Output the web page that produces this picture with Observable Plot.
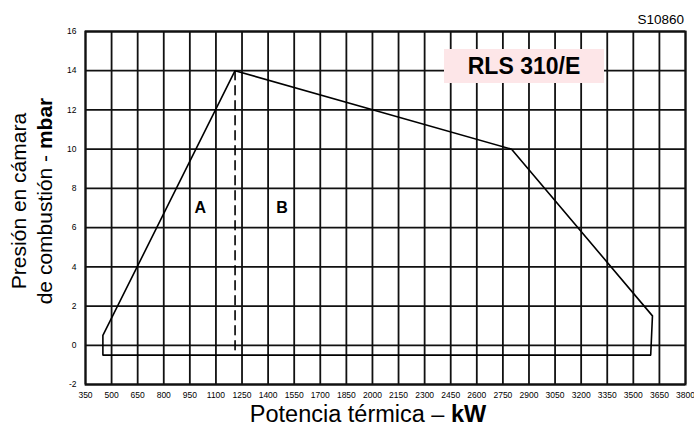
<!DOCTYPE html>
<html><head><meta charset="utf-8">
<script src="https://cdn.jsdelivr.net/npm/d3@7"></script>
<script src="https://cdn.jsdelivr.net/npm/@observablehq/plot@0.6"></script>
<style>
html,body{margin:0;padding:0;background:#fff;}
#wrap{position:relative;width:694px;height:426px;font-family:"Liberation Sans",Arial,sans-serif;}
.ov{position:absolute;white-space:nowrap;color:#000;}
</style>
</head><body>
<div id="wrap"></div>
<script>
// Data
const xTicks = [350,500,650,800,950,1100,1250,1400,1550,1700,1850,2000,2150,2300,2450,2600,2750,2900,3050,3200,3350,3500,3650,3800];
const yTicks = [-2,0,2,4,6,8,10,12,14,16];
const envX = [450, 450, 1210, 2800, 3610, 3600, 450, 450];
const envY = [0.5, 0.5, 14, 10, 1.5, -0.5, -0.5, 0.5];
const divX = [1210, 1210];
const divY = [14, -0.4];
const zoneLabels = ["A", "B"];
const zoneX = [1010, 1480];
const zoneY = [7, 7];
const modelName = "RLS 310/E";
const codeName = "S10860";
const xTitle = ["Potencia térmica – ", "kW"];
const yTitle1 = "Presión en cámara";
const yTitle2 = ["de combustión - ", "mbar"];

const env = envX.map((x, i) => ({x, y: envY[i]}));
const div = divX.map((x, i) => ({x, y: divY[i]}));
const zones = zoneLabels.map((t, i) => ({t, x: zoneX[i], y: zoneY[i]}));
const fmt = d => String(d);

const chart = Plot.plot({
  width: 694, height: 426,
  marginLeft: 85, marginRight: 9, marginTop: 31, marginBottom: 42,
  style: {fontFamily: '"Liberation Sans", Arial, sans-serif', background: "#fff", color: "#000"},
  x: {domain: [350, 3800], label: null},
  y: {domain: [-2, 16], label: null},
  marks: [
    Plot.ruleX(xTicks, {stroke: "#111", strokeWidth: 1.8}),
    Plot.ruleY(yTicks, {stroke: "#111", strokeWidth: 1.8}),
    Plot.frame({stroke: "#111", strokeWidth: 2}),
    Plot.line(env, {x: "x", y: "y", stroke: "#000", strokeWidth: 1.6, curve: "linear"}),
    Plot.line(div, {x: "x", y: "y", stroke: "#000", strokeWidth: 1.6, strokeDasharray: "9,6"}),
    Plot.text(zones, {x: "x", y: "y", text: "t", fontSize: 16, fontWeight: "bold", fill: "#000"}),
    Plot.axisX({ticks: xTicks, tickSize: 0, tickPadding: 7, fontSize: 8.5, tickFormat: fmt, label: null, fill: "#000"}),
    Plot.axisY({ticks: yTicks, tickSize: 0, tickPadding: 9, fontSize: 8.5, tickFormat: fmt, label: null, fill: "#000"})
  ]
});
const wrap = document.getElementById("wrap");
wrap.appendChild(chart);

function ov(html, css) {
  const d = document.createElement("div");
  d.className = "ov";
  d.innerHTML = html;
  Object.assign(d.style, css);
  wrap.appendChild(d);
  return d;
}
ov(codeName, {right: "10px", top: "12px", fontSize: "13.5px"});
ov(modelName, {left: "444px", top: "49px", width: "160px", height: "34px", lineHeight: "34px",
  textAlign: "center", background: "#fde6e8", fontSize: "23px", fontWeight: "bold"});
ov(xTitle[0] + "<b>" + xTitle[1] + "</b>", {left: "368px", top: "403px", transform: "translateX(-50%)", fontSize: "23.5px", lineHeight: "23px"});
ov(yTitle1 + "<br>" + yTitle2[0] + "<b>" + yTitle2[1] + "</b>",
  {left: "32px", top: "201px", transform: "translate(-50%,-50%) rotate(-90deg)", fontSize: "21px", lineHeight: "26px", textAlign: "center"});
</script>
</body></html>
